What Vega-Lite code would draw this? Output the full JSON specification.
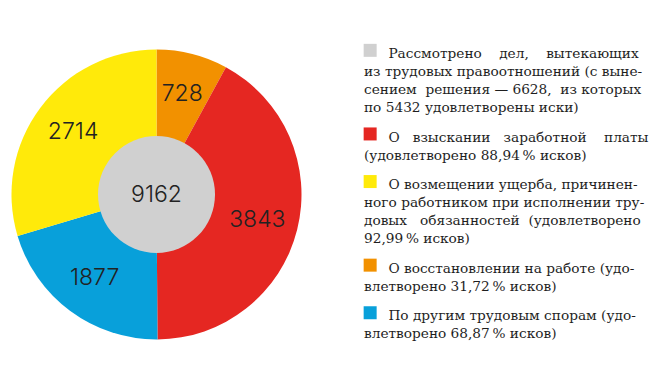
{
  "$schema": "https://vega.github.io/schema/vega-lite/v6.json",
  "width": 291,
  "height": 291,
  "autosize": {"type": "none"},
  "padding": {"left": 11, "top": 49, "right": 358, "bottom": 32},
  "background": "white",
  "datasets": {
    "segments": [
      {"category": "О восстановлении на работе (удо-\nвлетворено 31,72\u2009% исков)", "value": 728, "pos": 1},
      {"category": "О \u00a0\u00a0взыскании \u00a0\u00a0заработной \u00a0\u00a0\u00a0платы\n(удовлетворено 88,94\u2009% исков)", "value": 3843, "pos": 2},
      {"category": "По другим трудовым спорам (удо-\nвлетворено 68,87\u2009% исков)", "value": 1877, "pos": 3},
      {"category": "О возмещении ущерба, причинен-\nного работником при исполнении тру-\nдовых \u00a0\u00a0обязанностей \u00a0(удовлетворено\n92,99\u2009% исков)", "value": 2714, "pos": 4}
    ],
    "total": [
      {"category": "Рассмотрено \u00a0\u00a0\u00a0дел, \u00a0\u00a0\u00a0вытекающих\nиз трудовых правоотношений (с выне-\nсением \u00a0решения — 6628, \u00a0из которых\nпо 5432 удовлетворены иски)", "value": 9162}
    ]
  },
  "encoding": {
    "color": {
      "field": "category",
      "type": "nominal",
      "scale": {
        "domain": [
          "Рассмотрено \u00a0\u00a0\u00a0дел, \u00a0\u00a0\u00a0вытекающих\nиз трудовых правоотношений (с выне-\nсением \u00a0решения — 6628, \u00a0из которых\nпо 5432 удовлетворены иски)",
          "О \u00a0\u00a0взыскании \u00a0\u00a0заработной \u00a0\u00a0\u00a0платы\n(удовлетворено 88,94\u2009% исков)",
          "О возмещении ущерба, причинен-\nного работником при исполнении тру-\nдовых \u00a0\u00a0обязанностей \u00a0(удовлетворено\n92,99\u2009% исков)",
          "О восстановлении на работе (удо-\nвлетворено 31,72\u2009% исков)",
          "По другим трудовым спорам (удо-\nвлетворено 68,87\u2009% исков)"
        ],
        "range": ["#d0d0d0", "#e52722", "#ffea0a", "#f29100", "#08a0da"]
      },
      "legend": {
        "title": null,
        "orient": "none",
        "legendX": 352.3,
        "legendY": -5.5,
        "padding": 0,
        "symbolType": "square",
        "symbolSize": 169,
        "symbolStrokeWidth": 0,
        "symbolOpacity": 1,
        "labelOffset": -13,
        "labelLimit": 1000,
        "labelFont": "DejaVu Serif",
        "labelFontSize": 13.7,
        "labelColor": "#1e1e1e",
        "labelBaseline": "alphabetic",
        "rowPadding": 11.6,
        "labelExpr": "split('\u2800\u2800\u00a0' + datum.label, '\\n')"
      }
    }
  },
  "layer": [
    {
      "data": {"name": "segments"},
      "mark": {"type": "arc", "outerRadius": 145, "stroke": null},
      "encoding": {
        "theta": {"field": "value", "type": "quantitative", "stack": true},
        "order": {"field": "pos", "type": "quantitative"}
      }
    },
    {
      "data": {"name": "segments"},
      "mark": {"type": "text", "radius": 104, "font": "Inter", "fontWeight": 300, "fontSize": 23},
      "encoding": {
        "theta": {"field": "value", "type": "quantitative", "stack": true},
        "order": {"field": "pos", "type": "quantitative"},
        "text": {"field": "value", "type": "quantitative", "format": "d"},
        "color": {"value": "#222222"}
      }
    },
    {
      "data": {"name": "total"},
      "mark": {"type": "arc", "outerRadius": 58.5, "stroke": null},
      "encoding": {
        "theta": {"field": "value", "type": "quantitative"}
      }
    },
    {
      "data": {"name": "total"},
      "mark": {"type": "text", "font": "Inter", "fontWeight": 300, "fontSize": 23},
      "encoding": {
        "text": {"field": "value", "type": "quantitative", "format": "d"},
        "color": {"value": "#222222"}
      }
    }
  ],
  "config": {
    "view": {"stroke": null},
    "style": {"guide-label": {"dy": 7.7, "lineHeight": 18}}
  }
}
